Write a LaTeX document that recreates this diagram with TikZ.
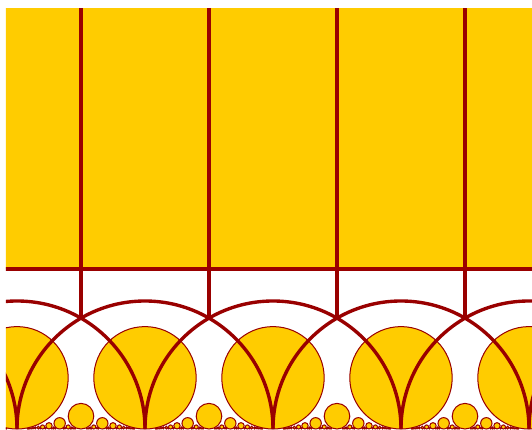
\documentclass[tikz,border=0pt]{standalone}
\usepackage{tikz}
\usepackage{xcolor}
\definecolor{ball}{HTML}{FFCC00}
\definecolor{edge}{HTML}{990000}

\begin{document}
\begin{tikzpicture}[
    x=2cm, y=2cm,
    horoball/.style={fill=ball, draw=edge, line width=0.45pt},
    geod/.style={draw=edge, line width=1.5pt}
  ]
    \useasboundingbox (-2.1328,0) rectangle (2.0234,3.3516);
    \clip (-2.086,0) rectangle (2.0234,3.289);

    % horoball at infinity, height 1.25
    \fill[ball] (-2.2,1.25) rectangle (2.2,3.4);

    % horoballs at p/q, diameter 0.8/q^2
    \foreach \q in {1,...,12}{
      \pgfmathtruncatemacro{\pmin}{floor(-2.2*\q)}
      \pgfmathtruncatemacro{\pmax}{ceil(2.1*\q)}
      \foreach \p in {\pmin,...,\pmax}{
        \pgfmathtruncatemacro{\gcdval}{gcd(abs(\p),\q)}
        \ifnum\gcdval=1
          \pgfmathsetmacro{\rad}{0.4/(\q*\q)}
          \draw[horoball] ({\p/\q},\rad) circle (\rad);
        \fi
      }
    }

    \draw[geod] (-2.2,1.25) -- (2.2,1.25);

    % tessellation edges
    \foreach \n in {-3,...,2}
      \draw[geod] (\n+0.5,0.8660) -- (\n+0.5,3.4);
    \foreach \n in {-3,...,3}
      \draw[geod] (\n+1,0) arc (0:180:1);
\end{tikzpicture}
\end{document}
